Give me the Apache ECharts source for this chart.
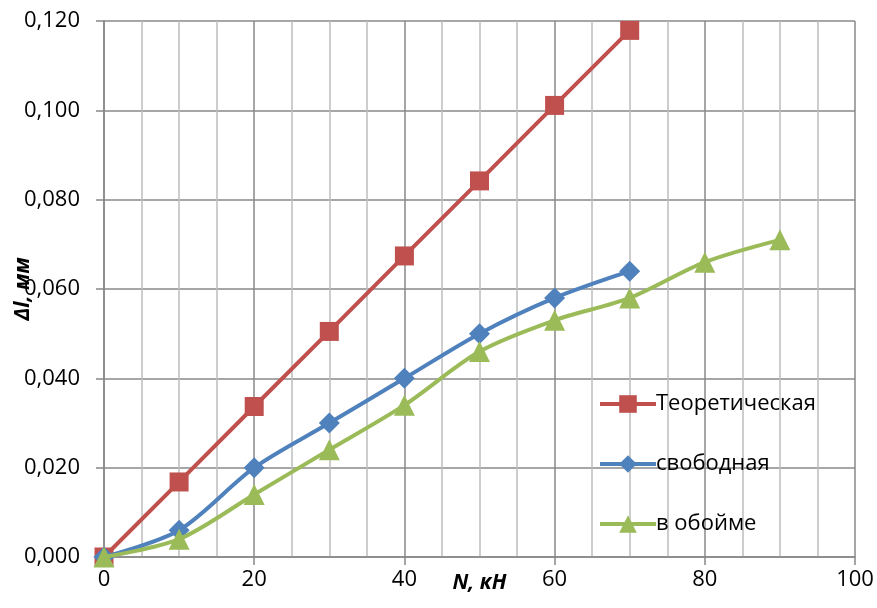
<!DOCTYPE html>
<html><head><meta charset="utf-8">
<script src="https://cdn.jsdelivr.net/npm/echarts@6/dist/echarts.min.js"></script>
<style>html,body{margin:0;padding:0;background:#fff}#c{width:877px;height:608px}</style>
</head><body><div id="c"></div>
<script>
const loadsTheory = [0, 10, 20, 30, 40, 50, 60, 70];
const theory = [0, 0.0168, 0.0337, 0.0505, 0.0674, 0.0842, 0.1011, 0.1179];
const loadsFree = [0, 10, 20, 30, 40, 50, 60, 70];
const free = [0, 0.006, 0.020, 0.030, 0.040, 0.050, 0.058, 0.064];
const loadsClip = [0, 10, 20, 30, 40, 50, 60, 70, 80, 90];
const clip = [0, 0.004, 0.014, 0.024, 0.034, 0.046, 0.053, 0.058, 0.066, 0.071];
const seriesNames = ['Теоретическая', 'свободная', 'в обойме'];

const zip = (xs, ys) => xs.map((x, i) => [x, ys[i]]);
const font = 'Open Sans';
const chart = echarts.init(document.getElementById('c'), null, {renderer: 'canvas'});
chart.setOption({
  animation: false,
  textStyle: {fontFamily: font},
  grid: {left: 104, right: 22, top: 21, bottom: 51, containLabel: false, outerBoundsMode: 'none'},
  legend: {
    orient: 'vertical', left: 593, top: 388, itemGap: 38,
    itemWidth: 56, itemHeight: 22,
    textStyle: {fontFamily: font, fontSize: 22, color: '#000', padding: [0, 0, 0, -5]},
    data: [
      {name: seriesNames[0], lineStyle: {width: 4}},
      {name: seriesNames[1], lineStyle: {width: 4}},
      {name: seriesNames[2], lineStyle: {width: 4}}
    ]
  },
  xAxis: {
    type: 'value', min: 0, max: 100, interval: 20,
    name: 'N, кН', nameLocation: 'middle', nameGap: 16, nameMoveOverlap: false,
    nameTextStyle: {fontFamily: font, fontSize: 21, fontWeight: 'bold', fontStyle: 'italic', color: '#000'},
    axisLine: {show: true, lineStyle: {color: '#888', width: 1.5}},
    axisTick: {show: true, length: 8, lineStyle: {color: '#888', width: 1.5}},
    axisLabel: {fontSize: 22, color: '#000', margin: 12, fontFamily: font},
    splitLine: {show: true, lineStyle: {color: '#888', width: 1.5}},
    minorTick: {show: false, splitNumber: 4},
    minorSplitLine: {show: true, lineStyle: {color: '#bdbdbd', width: 1.5}}
  },
  yAxis: {
    type: 'value', min: 0, max: 0.12, interval: 0.02,
    name: 'Δl, мм', nameLocation: 'middle', nameGap: 70, nameMoveOverlap: false,
    nameTextStyle: {fontFamily: font, fontSize: 21, fontWeight: 'bold', fontStyle: 'italic', color: '#000'},
    axisLine: {show: true, lineStyle: {color: '#888', width: 1.5}},
    axisTick: {show: true, length: 8, lineStyle: {color: '#888', width: 1.5}},
    axisLabel: {fontSize: 22, color: '#000', margin: 24, fontFamily: font,
      formatter: v => v.toFixed(3).replace('.', ',')},
    splitLine: {show: true, lineStyle: {color: '#888', width: 1.5}}
  },
  series: [
    {name: seriesNames[0], type: 'line', data: zip(loadsTheory, theory),
      symbol: 'rect', symbolSize: 19, smooth: false,
      itemStyle: {color: '#C0504D'}, lineStyle: {color: '#C0504D', width: 4}, z: 3},
    {name: seriesNames[1], type: 'line', data: zip(loadsFree, free),
      symbol: 'diamond', symbolSize: 21, smooth: 0.3,
      itemStyle: {color: '#4F81BD'}, lineStyle: {color: '#4F81BD', width: 4}, z: 4},
    {name: seriesNames[2], type: 'line', data: zip(loadsClip, clip),
      symbol: 'triangle', symbolSize: 21, smooth: 0.3,
      itemStyle: {color: '#9BBB59'}, lineStyle: {color: '#9BBB59', width: 4}, z: 5}
  ]
});
</script></body></html>
